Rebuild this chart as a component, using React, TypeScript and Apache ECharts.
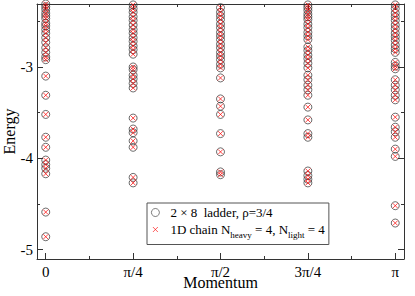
import React, { useEffect, useRef } from 'react';
import * as echarts from 'echarts';

// Momentum positions in units of pi/4
const momentumTicks = [0, 1, 2, 3, 4];
const momentumLabels = ['0', 'π/4', 'π/2', '3π/4', 'π'];
const momentumMinorTicks = [0.5, 1.5, 2.5, 3.5];
const energyTicks = [-5, -4, -3];
const energyMinorTicks = [-4.5, -3.5, -2.5];

// Energy levels of the 2x8 ladder at each momentum
const ladderK0 = [-2.31, -2.34, -2.37, -2.41, -2.44, -2.47, -2.52, -2.55, -2.59, -2.63, -2.68, -2.73, -2.79, -2.84, -2.89, -2.92, -3.10, -3.31, -3.52, -3.77, -3.88, -4.02, -4.07, -4.11, -4.17, -4.59, -4.86];
const ladderK1 = [-2.32, -2.36, -2.40, -2.45, -2.49, -2.54, -2.59, -2.63, -2.68, -2.72, -2.77, -2.81, -2.86, -3.00, -3.03, -3.09, -3.13, -3.18, -3.23, -3.56, -3.68, -3.72, -3.81, -3.88, -4.21, -4.27];
const ladderK2 = [-2.35, -2.40, -2.44, -2.48, -2.53, -2.57, -2.62, -2.66, -2.70, -2.75, -2.79, -2.84, -2.88, -2.92, -2.97, -3.01, -3.12, -3.35, -3.43, -3.52, -3.73, -3.93, -4.15, -4.18];
const ladderK3 = [-2.32, -2.35, -2.38, -2.42, -2.45, -2.48, -2.53, -2.57, -2.62, -2.66, -2.70, -2.78, -2.82, -2.87, -2.91, -2.96, -3.01, -3.09, -3.14, -3.20, -3.25, -3.31, -3.44, -3.58, -3.73, -3.77, -4.14, -4.19, -4.23, -4.27];
const ladderK4 = [-2.32, -2.36, -2.41, -2.45, -2.49, -2.54, -2.58, -2.63, -2.67, -2.71, -2.76, -2.80, -2.84, -2.95, -2.99, -3.02, -3.14, -3.20, -3.25, -3.31, -3.36, -3.55, -3.66, -3.71, -3.77, -3.90, -3.98, -4.52, -4.71];

// Energy levels of the 1D chain (coincide with the ladder levels)
const chainK0 = ladderK0;
const chainK1 = ladderK1;
const chainK2 = ladderK2;
const chainK3 = ladderK3;
const chainK4 = ladderK4;

const LADDER = '2 × 8  ladder, ρ=3/4';
const CHAIN = '1D chain Nheavy = 4, Nlight = 4';

const X_MIN = -0.1;
const X_MAX = 4.1;
const Y_MIN = -5.104;
const Y_MAX = -2.31;

const serif = 'Liberation Serif';
const axisColor = '#333';
const circleColor = '#333';
const crossColor = '#ff0000';

function toPoints(levels: number[][]) {
  const out: number[][] = [];
  levels.forEach((arr, k) => arr.forEach((e) => out.push([momentumTicks[k], e])));
  return out;
}

function xAxisDef(position: 'bottom' | 'top', ticks: number[], len: number, main: boolean) {
  return {
    type: 'value',
    min: X_MIN,
    max: X_MAX,
    position,
    axisLine: { show: main, onZero: false, lineStyle: { color: axisColor, width: 1 } },
    axisTick: { show: true, inside: true, length: len, customValues: ticks, lineStyle: { color: axisColor, width: 1 } },
    axisLabel: main && position === 'bottom'
      ? {
          show: true,
          customValues: momentumTicks,
          formatter: (v: number) => momentumLabels[Math.round(v)],
          margin: 7,
          lineHeight: 11,
          color: '#000',
          fontFamily: serif,
          fontSize: 15,
        }
      : { show: false },
    splitLine: { show: false },
    ...(main && position === 'bottom'
      ? {
          name: 'Momentum',
          nameLocation: 'middle',
          nameGap: 18,
          nameMoveOverlap: false,
          nameTextStyle: { color: '#000', fontFamily: serif, fontSize: 16, lineHeight: 10 },
        }
      : {}),
  };
}

function yAxisDef(position: 'left' | 'right', ticks: number[], len: number, main: boolean) {
  return {
    type: 'value',
    min: Y_MIN,
    max: Y_MAX,
    position,
    axisLine: { show: main, onZero: false, lineStyle: { color: axisColor, width: 1 } },
    axisTick: { show: true, inside: true, length: len, customValues: ticks, lineStyle: { color: axisColor, width: 1 } },
    axisLabel: main && position === 'left'
      ? {
          show: true,
          customValues: energyTicks,
          formatter: (v: number) => String(v),
          margin: 4,
          color: '#000',
          fontFamily: serif,
          fontSize: 15,
        }
      : { show: false },
    splitLine: { show: false },
    ...(main && position === 'left'
      ? {
          name: 'Energy',
          nameLocation: 'middle',
          nameGap: 20,
          nameMoveOverlap: false,
          nameTextStyle: { color: '#000', fontFamily: serif, fontSize: 16 },
        }
      : {}),
  };
}

export default function App() {
  const ref = useRef<HTMLDivElement>(null);
  useEffect(() => {
    const chart = echarts.init(ref.current!, null, { renderer: 'svg' });
    const crossPath = 'path://M-3,-3M13,13M0,0L10,10M10,0L0,10';
    const option = {
      animation: false,
      backgroundColor: '#fff',
      grid: { left: 37, top: 4, right: 11, bottom: 37, containLabel: false, outerBoundsMode: 'none' },
      xAxis: [
        xAxisDef('bottom', momentumTicks, 6, true),
        xAxisDef('bottom', momentumMinorTicks, 3, false),
        xAxisDef('top', momentumTicks, 6, true),
        xAxisDef('top', momentumMinorTicks, 3, false),
      ],
      yAxis: [
        yAxisDef('left', energyTicks, 6, true),
        yAxisDef('left', energyMinorTicks, 3, false),
        yAxisDef('right', energyTicks, 6, true),
        yAxisDef('right', energyMinorTicks, 3, false),
      ],
      legend: {
        orient: 'vertical',
        left: 147,
        top: 203,
        padding: [3, 4, 5, 4],
        itemGap: 4,
        itemWidth: 20,
        itemHeight: 8,
        backgroundColor: '#fff',
        borderColor: '#555',
        borderWidth: 1,
        borderRadius: 0,
        selectedMode: false,
        data: [
          { name: LADDER, itemStyle: { color: 'rgba(255,255,255,0)', borderColor: circleColor, borderWidth: 0.8 } },
          { name: CHAIN, itemStyle: { color: 'rgba(255,255,255,0)', borderColor: crossColor, borderWidth: 0.8 } },
        ],
        formatter: (name: string) =>
          name === CHAIN
            ? '{m|1D chain N}{s|heavy}{m| = 4, N}{s|light}{m| = 4}'
            : '{n|' + name + '}',
        textStyle: {
          color: '#000',
          fontFamily: serif,
          fontSize: 13,
          rich: {
            n: { fontFamily: serif, fontSize: 13, lineHeight: 16, color: '#000' },
            m: { fontFamily: serif, fontSize: 13, lineHeight: 20, color: '#000' },
            s: { fontFamily: serif, fontSize: 9, lineHeight: 10, verticalAlign: 'bottom', color: '#000' },
          },
        },
      },
      series: [
        {
          type: 'scatter',
          name: LADDER,
          xAxisIndex: 0,
          yAxisIndex: 0,
          data: toPoints([ladderK0, ladderK1, ladderK2, ladderK3, ladderK4]),
          symbol: 'circle',
          symbolSize: 8,
          symbolKeepAspect: true,
          itemStyle: { color: 'rgba(255,255,255,0)', borderColor: circleColor, borderWidth: 0.9 },
          emphasis: { disabled: true },
          silent: true,
          z: 2,
        },
        {
          type: 'scatter',
          name: CHAIN,
          xAxisIndex: 0,
          yAxisIndex: 0,
          data: toPoints([chainK0, chainK1, chainK2, chainK3, chainK4]),
          symbol: crossPath,
          symbolSize: 8,
          symbolKeepAspect: true,
          itemStyle: { color: 'rgba(255,255,255,0)', borderColor: crossColor, borderWidth: 0.9 },
          emphasis: { disabled: true },
          silent: true,
          z: 3,
        },
      ],
    };
    chart.setOption(option as any);
    return () => chart.dispose();
  }, []);
  return (
    <div
      ref={ref}
      style={{ position: 'fixed', left: 0, top: 0, width: 415, height: 296, background: '#fff' }}
    />
  );
}
